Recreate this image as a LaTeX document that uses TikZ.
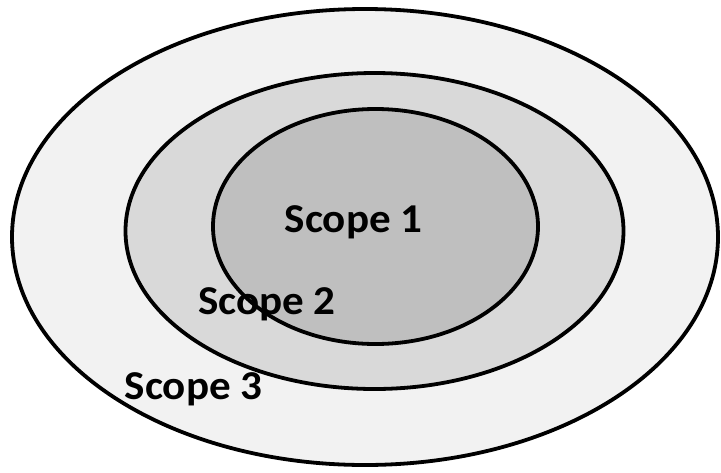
\documentclass[tikz,border=0pt]{standalone}
\usepackage{fontspec}
\setmainfont{Carlito}
\definecolor{fillA}{HTML}{F2F2F2}
\definecolor{fillB}{HTML}{D9D9D9}
\definecolor{fillC}{HTML}{BFBFBF}
\newcommand{\widetxt}[1]{\scalebox{1.05}[1]{#1}}
\begin{document}
\begin{tikzpicture}[x=1pt,y=-1pt,
  ring/.style={draw=black,line width=3.8pt},
  lbl/.style={font=\fontsize{41}{48}\selectfont\bfseries,inner sep=0pt,anchor=base}]
\useasboundingbox (0,0) rectangle (721,472);
\fill[white] (0,0) rectangle (721,472);
\draw[ring,fill=fillA] (365,237) ellipse [x radius=353, y radius=228];
\draw[ring,fill=fillB] (374.5,231) ellipse [x radius=249, y radius=158];
\draw[ring,fill=fillC] (375.5,226.5) ellipse [x radius=162.5, y radius=117.5];
\node[lbl] (s1) at (353.5,232.5) {\widetxt{Scope 1}};
\node[lbl] (s2) at (267,314) {\widetxt{Scope 2}};
\node[lbl] (s3) at (193.5,399.5) {\widetxt{Scope 3}};
\end{tikzpicture}
\end{document}
